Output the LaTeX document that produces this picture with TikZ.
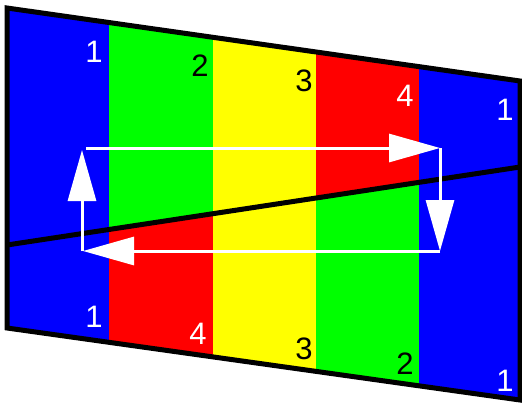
\documentclass[tikz,border=0pt]{standalone}
\usepackage{fontspec}
\setmainfont{Liberation Sans}
\usetikzlibrary{arrows.meta}
\definecolor{cblue}{RGB}{0,0,255}
\definecolor{cgreen}{RGB}{0,255,0}
\definecolor{cyellow}{RGB}{255,255,0}
\definecolor{cred}{RGB}{255,0,0}
\tikzset{
  edge/.style={line width=5pt, black, line join=miter},
  loopar/.style={white, line width=3pt, -{Triangle[length=51pt, width=28pt]}},
  lab/.style={inner sep=0pt, anchor=center, font=\fontsize{31}{31}\selectfont},
  wlab/.style={lab, text=white},
  blab/.style={lab, text=black}
}
\begin{document}
\begin{tikzpicture}[x=1pt, y=-1pt]
\useasboundingbox (0,0) rectangle (522,410);
% corners
\coordinate (TL) at (7,8);
\coordinate (TR) at (520,81);
\coordinate (BR) at (520,400);
\coordinate (BL) at (7,328);
\coordinate (DL) at (7,245);
\coordinate (DR) at (520,167);
% upper stripes
\begin{scope}
  \clip (TL) -- (TR) -- (DR) -- (DL) -- cycle;
  \fill[cblue]   (0,0) rectangle (109,410);
  \fill[cgreen]  (109,0) rectangle (213,410);
  \fill[cyellow] (213,0) rectangle (316,410);
  \fill[cred]    (316,0) rectangle (419,410);
  \fill[cblue]   (419,0) rectangle (522,410);
\end{scope}
% lower stripes
\begin{scope}
  \clip (DL) -- (DR) -- (BR) -- (BL) -- cycle;
  \fill[cblue]   (0,0) rectangle (109,410);
  \fill[cred]    (109,0) rectangle (213,410);
  \fill[cyellow] (213,0) rectangle (316,410);
  \fill[cgreen]  (316,0) rectangle (419,410);
  \fill[cblue]   (419,0) rectangle (522,410);
\end{scope}
% outline and dividing line
\draw[edge] (TL) -- (TR) -- (BR) -- (BL) -- cycle;
\draw[edge] (DL) -- (DR);
% labels
\node[wlab] (u1) at (94,52) {1};
\node[blab] (u2) at (200,66) {2};
\node[blab] (u3) at (304,81) {3};
\node[wlab] (u4) at (405,96) {4};
\node[wlab] (u5) at (505,110) {1};
\node[wlab] (l1) at (94,317) {1};
\node[wlab] (l2) at (198,334) {4};
\node[blab] (l3) at (304,349) {3};
\node[blab] (l4) at (405,364) {2};
\node[wlab] (l5) at (505,381) {1};
% loop arrows
\coordinate (c1) at (82,148);
\coordinate (c2) at (440,148);
\coordinate (c3) at (440,251);
\coordinate (c4) at (82,251);
\draw[loopar, shorten <=4pt] (c1) -- (c2);
\draw[loopar] (c2) -- (c3);
\draw[loopar, shorten >=1pt] (c3) -- (c4);
\draw[loopar, shorten >=2pt] (c4) -- (c1);
\end{tikzpicture}
\end{document}
